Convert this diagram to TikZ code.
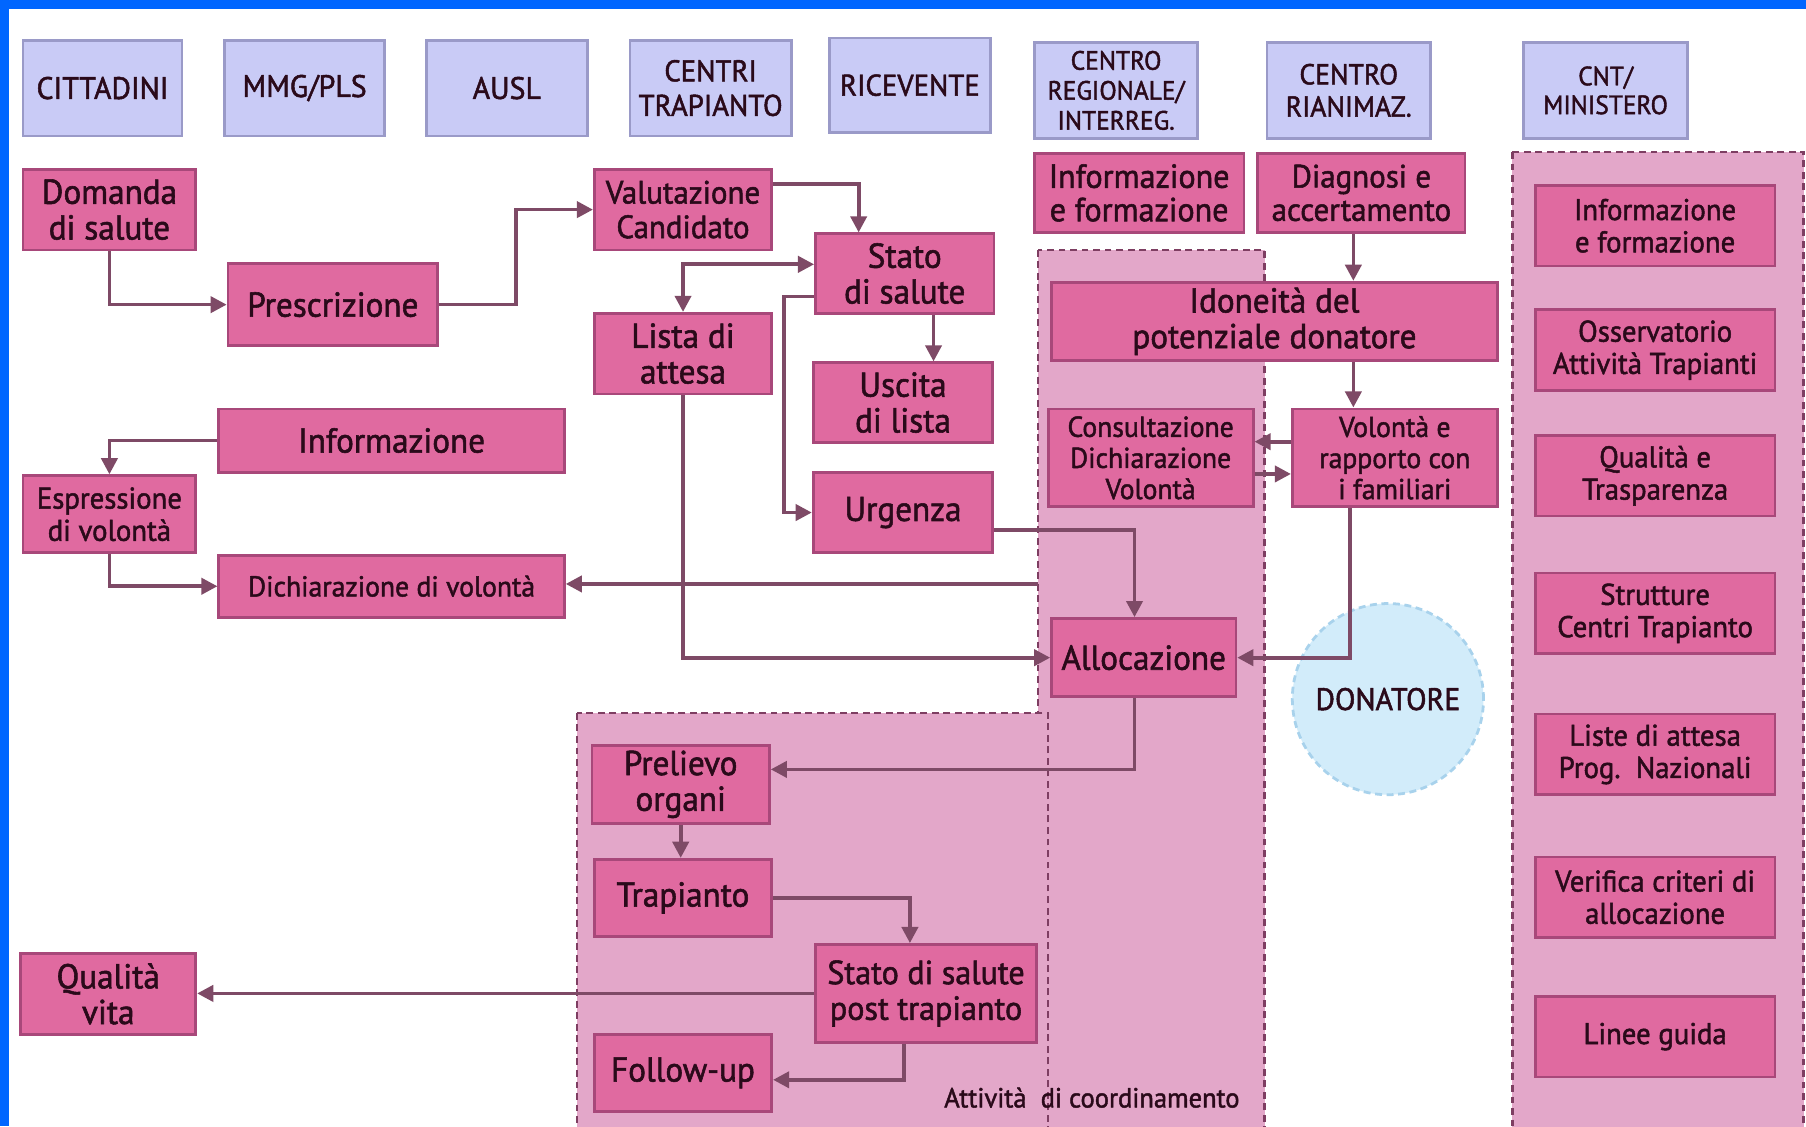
\documentclass[tikz,border=0pt]{standalone}
\usepackage{fontspec}
\setmainfont{PT Sans}[FakeBold=1.6,FakeStretch=0.96]
\usetikzlibrary{arrows.meta}

\definecolor{boxfill}{HTML}{E06AA0}
\definecolor{boxline}{HTML}{A8487A}
\definecolor{regfill}{HTML}{E3A7C9}
\definecolor{regline}{HTML}{7E3E62}
\definecolor{hdrfill}{HTML}{C9CBF6}
\definecolor{hdrline}{HTML}{9A9AC8}
\definecolor{arrowcol}{HTML}{7E4A66}
\definecolor{txt}{HTML}{2A0A1A}
\definecolor{donfill}{HTML}{D2ECFA}
\definecolor{donline}{HTML}{A8D2EC}
\definecolor{frame}{HTML}{0066FF}

\tikzset{
	wh/.style 2 args={minimum width=#1*0.5pt,minimum height=#2*0.5pt},
	hdr/.style={draw=hdrline,fill=hdrfill,line width=1.2pt,text=txt,align=center,inner sep=0pt,font=\fontsize{13.5}{15}\selectfont},
	pbox/.style={draw=boxline,fill=boxfill,line width=1.2pt,text=txt,align=center,inner sep=0pt,font=\fontsize{15}{15.5}\selectfont},
	small/.style={font=\fontsize{12.5}{13.5}\selectfont},
	region/.style={fill=regfill,draw=regline,line width=1.1pt,dash pattern=on 3pt off 2pt},
	flow/.style={draw=arrowcol,line width=1.6pt,-{Triangle[length=7pt,width=7pt]}},
}

\begin{document}
\begin{tikzpicture}[x=0.5pt,y=-0.5pt]
\useasboundingbox (0,0) rectangle (1568,978);
\fill[white] (0,0) rectangle (1568,978);
\fill[frame] (0,0) rectangle (1568,8);
\fill[frame] (0,0) rectangle (8,978);

% dashed areas
\path[region] (1313,132) rectangle (1566,982);
\path[region] (901,217) rectangle (1098,982);
\path[region] (501,619) rectangle (910,982);
\node[text=txt,font=\fontsize{12}{12}\selectfont] (coord) at (948,953) {Attività\ \ di coordinamento};

% header row
\node[hdr,wh={138}{83}] (cit) at (89,76.5) {CITTADINI};
\node[hdr,wh={139}{83}] (mmg) at (264.5,76.5) {MMG/PLS};
\node[hdr,wh={140}{83}] (ausl) at (440,76.5) {AUSL};
\node[hdr,wh={140}{83},font=\fontsize{13}{15}\selectfont] (ctr) at (617,76.5) {CENTRI\\TRAPIANTO};
\node[hdr,wh={140}{82},font=\fontsize{13}{15}\selectfont] (ric) at (790,74) {RICEVENTE};
\node[hdr,wh={142}{83},font=\fontsize{11.5}{13}\selectfont] (creg) at (969,78.5) {CENTRO\\REGIONALE/\\INTERREG.};
\node[hdr,wh={142}{83},font=\fontsize{12.5}{14}\selectfont] (crian) at (1171,78.5) {CENTRO\\RIANIMAZ.};
\node[hdr,wh={142}{83},font=\fontsize{11.5}{12.5}\selectfont] (cnt) at (1394,78.5) {CNT/\\MINISTERO};

% citizens and candidates
\node[pbox,wh={150}{70}] (dom) at (95,182) {Domanda\\di salute};
\node[pbox,wh={182}{71}] (pre) at (289,264.5) {Prescrizione};
\node[pbox,wh={154}{70},font=\fontsize{14}{15}\selectfont] (val) at (593,182) {Valutazione\\Candidato};
\node[pbox,wh={155}{69}] (sta) at (785.5,237.5) {Stato\\di salute};
\node[pbox,wh={154}{70}] (lis) at (593,307) {Lista di\\attesa};
\node[pbox,wh={156}{69}] (usc) at (784,349.5) {Uscita\\di lista};
\node[pbox,wh={156}{70}] (urg) at (784,445) {Urgenza};
\node[pbox,wh={300}{55}] (inf) at (340,382.5) {Informazione};
\node[pbox,wh={150}{67},font=\fontsize{13}{14}\selectfont] (esp) at (95,446.5) {Espressione\\di volontà};
\node[pbox,wh={300}{54},small] (dic) at (340,509) {Dichiarazione di volontà};

% donor side
\node[pbox,wh={182}{69},font=\fontsize{14.5}{14.5}\selectfont] (rinf) at (989,167.5) {Informazione\\e formazione};
\node[pbox,wh={180}{69},font=\fontsize{14}{14.5}\selectfont] (dia) at (1182,167.5) {Diagnosi e\\accertamento};
\node[pbox,wh={387}{68}] (ido) at (1106.5,279) {Idoneità del\\potenziale donatore};
\node[pbox,wh={178}{85},small] (con) at (999,397.5) {Consultazione\\Dichiarazione\\Volontà};
\node[pbox,wh={178}{85},small] (vol) at (1211,397.5) {Volontà e\\rapporto con\\i familiari};
\node[pbox,wh={160}{68}] (all) at (993,571) {Allocazione};
\node[circle,fill=donfill,draw=donline,line width=1.2pt,dash pattern=on 3pt off 2pt,minimum size=83pt,inner sep=0pt,text=txt,font=\fontsize{13.5}{14}\selectfont] (don) at (1205,607) {DONATORE};

% transplant
\node[pbox,wh={154}{68}] (prl) at (591,681) {Prelievo\\organi};
\node[pbox,wh={154}{67}] (tra) at (593,779.5) {Trapianto};
\node[pbox,wh={192}{85},font=\fontsize{14.5}{15.5}\selectfont] (post) at (804,862.5) {Stato di salute\\post trapianto};
\node[pbox,wh={154}{67}] (fol) at (593,931.5) {Follow-up};
\node[pbox,wh={152}{70}] (qua) at (94,863) {Qualità\\vita};

% national column
\foreach \y/\txt in {196/{Informazione\\e formazione}, 304/{Osservatorio\\Attività Trapianti}, 413/{Qualità e\\Trasparenza}, 532.5/{Strutture\\Centri Trapianto}, 655/{Liste di attesa\\Prog.\ \ Nazionali}, 779/{Verifica criteri di\\allocazione}, 900/{Linee guida}} {
	\node[pbox,wh={208}{70},font=\fontsize{13}{14}\selectfont] (nat\y) at (1437,\y) {\txt};
}

% connectors
\draw[flow] (dom.south) |- (pre.west);
\draw[flow] (pre.east) -- ++(67,0) |- (val.west);
\draw[flow] ([yshift=11pt]val.east) -| ([xshift=-20pt]sta.north);
\draw[flow,{Triangle[length=7pt,width=7pt]}-{Triangle[length=7pt,width=7pt]}] (lis.north) |- ([yshift=4pt]sta.west);
\draw[flow] ([yshift=-10pt]sta.west) -- ++(-26,0) |- (urg.west);
\draw[flow] ([xshift=12.5pt]sta.south) -- ([xshift=12.5pt]sta.south |- usc.north);
\draw[flow] (lis.south) |- (all.west);
\draw[flow] ([yshift=-7.5pt]urg.east) -| ([xshift=-4pt]all.north);
\coordinate (bandw) at (901,507);
\draw[flow] (bandw) -- (bandw -| dic.east);
\draw[flow] (inf.west) -| (esp.north);
\draw[flow] (esp.south) |- (dic.west);
\draw[flow] ([xshift=-3.5pt]dia.south) -- ([xshift=-3.5pt]dia.south |- ido.north);
\draw[flow] ([xshift=-18pt]vol.north |- ido.south) -- ([xshift=-18pt]vol.north);
\draw[flow] ([yshift=7pt]vol.west) -- ([yshift=7pt]con.east);
\draw[flow] ([yshift=-7pt]con.east) -- ([yshift=-7pt]vol.west);
\draw[flow] ([xshift=-19.5pt]vol.south) |- (all.east);
\draw[flow] ([xshift=-4pt]all.south) |- ([yshift=6.5pt]prl.east);
\draw[flow] (prl.south) -- (prl.south |- tra.north);
\draw[flow] (tra.east) -| ([xshift=-7pt]post.north);
\draw[flow] (post.west) -- (post.west -| qua.east);
\draw[flow] ([xshift=-9.5pt]post.south) |- ([yshift=-3pt]fol.east);

\end{tikzpicture}
\end{document}
